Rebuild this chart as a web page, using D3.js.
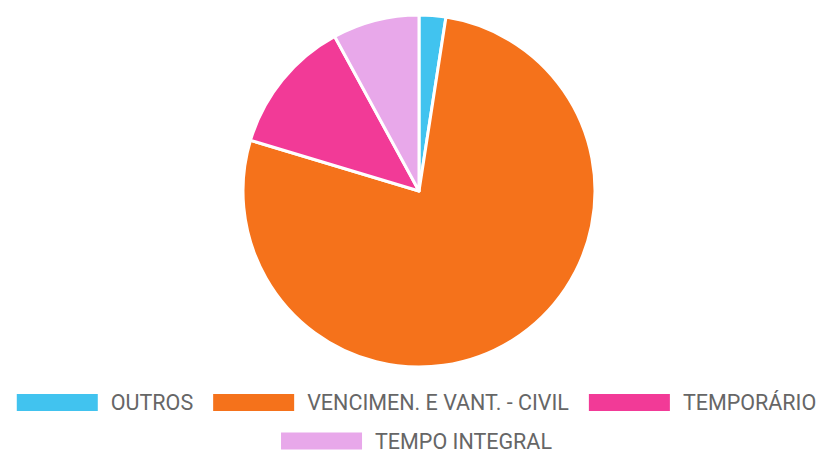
<!DOCTYPE html>
<html>
<head>
<meta charset="utf-8">
<script src="https://cdn.jsdelivr.net/npm/d3@7"></script>
<style>
  body { margin: 0; background: #fff; }
  svg { display: block; font-family: Roboto, "Liberation Sans", sans-serif; }
</style>
</head>
<body>
<svg id="chart" width="831" height="453"></svg>
<script>
// slice data (percent)
const labels = ["OUTROS", "VENCIMEN. E VANT. - CIVIL", "TEMPORÁRIO", "TEMPO INTEGRAL"];
const values = [2.45, 77.2, 12.4, 7.95];
const colors = ["#41c3ef", "#f5721b", "#f23a97", "#e8a8ea"];

const data = labels.map((label, i) => ({ label, value: values[i], color: colors[i] }));

const width = 831, height = 453;
const cx = 419, cy = 191, radius = 176;

const svg = d3.select("#chart");

const pie = d3.pie().sort(null).value(d => d.value);
const arc = d3.arc().innerRadius(0).outerRadius(radius);

svg.append("g")
    .attr("transform", `translate(${cx},${cy})`)
    .selectAll("path")
    .data(pie(data))
    .enter().append("path")
    .attr("d", arc)
    .attr("fill", d => d.data.color)
    .attr("stroke", "#fff")
    .attr("stroke-width", 3)
    .attr("stroke-linejoin", "round");

// Legend, chart.js style: rows centred, box + label
const boxW = 81, boxH = 17, textGap = 13, itemGap = 20;
const rows = [[0, 1, 2], [3]];
const rowY = [402.5, 441];

const legend = svg.append("g");

rows.forEach((row, r) => {
    const items = row.map(i => {
        const g = legend.append("g");
        g.append("rect")
            .attr("width", boxW)
            .attr("height", boxH)
            .attr("y", -boxH / 2)
            .attr("fill", colors[i]);
        const t = g.append("text")
            .attr("x", boxW + textGap)
            .attr("dy", "0.36em")
            .attr("fill", "#666")
            .style("font-size", "21.5px")
            .text(labels[i]);
        const w = boxW + textGap + t.node().getComputedTextLength();
        return { g, w };
    });
    const total = d3.sum(items, d => d.w) + itemGap * (items.length - 1);
    let x = (width - total) / 2 + 1;
    items.forEach(it => {
        it.g.attr("transform", `translate(${x},${rowY[r]})`);
        x += it.w + itemGap;
    });
});
</script>
</body>
</html>
